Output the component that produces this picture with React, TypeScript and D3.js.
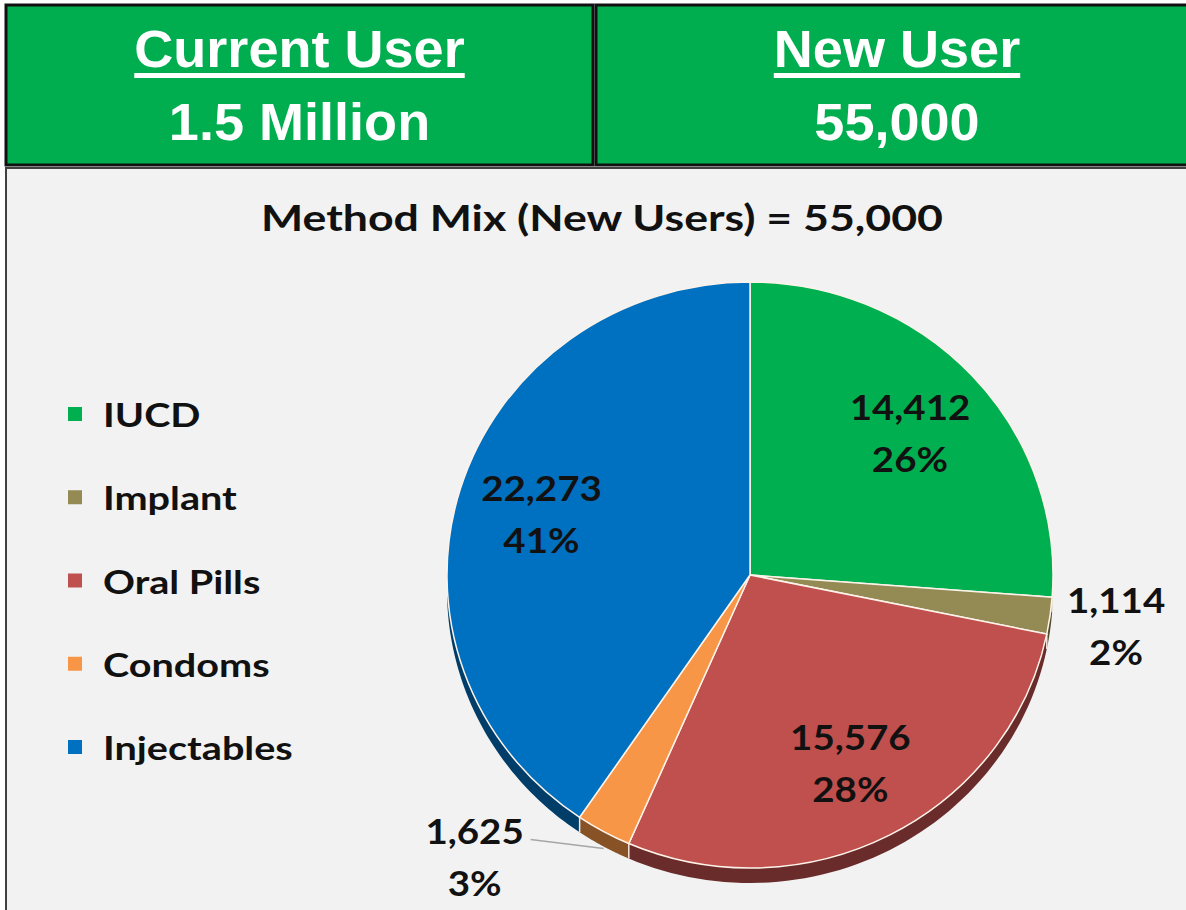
import React, { useEffect, useRef } from 'react';
import * as d3 from 'd3';

const methods = ['IUCD', 'Implant', 'Oral Pills', 'Condoms', 'Injectables'];
const newUsers = [14412, 1114, 15576, 1625, 22273];
const sharePercent = [26, 2, 28, 3, 41];
const sliceColors = ['#00b050', '#948a54', '#c0504d', '#f79646', '#0070c0'];
const headerTitles = ['Current User', 'New User'];
const headerValues = ['1.5 Million', '55,000'];
const chartTitle = 'Method Mix (New Users) = 55,000';

export default function App() {
  const ref = useRef<SVGSVGElement>(null);

  useEffect(() => {
    const svg = d3.select(ref.current as SVGSVGElement);
    svg.selectAll('*').remove();
    const W = 1186, H = 910;
    svg.append('rect').attr('width', W).attr('height', H).attr('fill', '#ffffff');

    const stretch = (sel: d3.Selection<SVGTextElement, unknown, null, undefined>, sx: number) => {
      const w = (sel.node() as SVGTextElement).getComputedTextLength();
      sel.attr('textLength', w * sx).attr('lengthAdjust', 'spacingAndGlyphs');
      return w * sx;
    };

    // Header boxes
    const boxes = [{ x: 6, w: 587 }, { x: 596, w: 602 }];
    const hdrFont = '"Liberation Sans", Arial, sans-serif';
    boxes.forEach((b, i) => {
      const g = svg.append('g');
      g.append('rect').attr('x', b.x).attr('y', 5).attr('width', b.w).attr('height', 160)
        .attr('fill', '#00ae50').attr('stroke', '#111').attr('stroke-width', 3);
      const cx = b.x + b.w / 2;
      const t = g.append('text').attr('x', cx).attr('y', 67).attr('text-anchor', 'middle')
        .attr('font-family', hdrFont).attr('font-weight', 'bold').attr('font-size', 51)
        .attr('fill', '#fff').text(headerTitles[i]);
      const tw = stretch(t as any, 1.06);
      g.append('rect').attr('x', cx - tw / 2).attr('y', 73).attr('width', tw).attr('height', 5).attr('fill', '#fff');
      const v = g.append('text').attr('x', cx).attr('y', 140).attr('text-anchor', 'middle')
        .attr('font-family', hdrFont).attr('font-weight', 'bold').attr('font-size', 51)
        .attr('fill', '#fff').text(headerValues[i]);
      stretch(v as any, 1.06);
    });

    // Chart area
    svg.append('rect').attr('x', 6).attr('y', 168).attr('width', 1200).attr('height', 760)
      .attr('fill', '#f2f2f2').attr('stroke', '#404040').attr('stroke-width', 2);

    const font = 'Lato, "Open Sans", sans-serif';
    const title = svg.append('text').attr('x', 602).attr('y', 231).attr('text-anchor', 'middle')
      .attr('font-family', font).attr('font-weight', 'bold').attr('font-size', 36)
      .attr('fill', '#111').text(chartTitle);
    stretch(title as any, 1.24);

    // Legend
    const legY = d3.scalePoint<string>().domain(methods).range([414, 747]);
    const leg = svg.append('g');
    methods.forEach((m, i) => {
      const y = legY(m) as number;
      leg.append('rect').attr('x', 68).attr('y', y - 7).attr('width', 14).attr('height', 14).attr('fill', sliceColors[i]);
      const t = leg.append('text').attr('x', 103).attr('y', y).attr('dominant-baseline', 'central')
        .attr('font-family', font).attr('font-weight', 'bold').attr('font-size', 33)
        .attr('fill', '#111').text(m);
      stretch(t as any, 1.2);
    });

    // Pie (slightly tilted 3D)
    const cx = 750, cy = 575, rx = 303, ry = 293, depth = 15;
    const total = d3.sum(newUsers);
    const pie = d3.pie<number>().sort(null).value(d => d);
    const arcs = pie(newUsers);
    const ell = (a: number, r = 1): [number, number] => [cx + Math.sin(a) * rx * r, cy - Math.cos(a) * ry * r];

    // sides
    const sideG = svg.append('g');
    arcs.forEach((a, i) => {
      const s = Math.max(a.startAngle, Math.PI / 2);
      const e = Math.min(a.endAngle, 3 * Math.PI / 2);
      if (s >= e) return;
      const n = 60;
      const top = d3.range(n + 1).map(k => ell(s + (e - s) * k / n));
      const bottom = top.slice().reverse().map(([x, y]) => [x, y + depth] as [number, number]);
      const pts = top.concat(bottom);
      sideG.append('path').attr('d', d3.line()(pts) + 'Z')
        .attr('fill', (d3.color(sliceColors[i]) as d3.RGBColor).darker(1.7).formatHex());
    });
    arcs.forEach(a => {
      const ang = a.endAngle;
      if (ang > Math.PI / 2 && ang < 3 * Math.PI / 2) {
        const [x, y] = ell(ang);
        sideG.append('line').attr('x1', x).attr('y1', y).attr('x2', x).attr('y2', y + depth)
          .attr('stroke', '#f4e6da').attr('stroke-width', 1.5);
      }
    });

    // top faces
    const arcGen = d3.arc<d3.PieArcDatum<number>>().innerRadius(0).outerRadius(rx);
    const topG = svg.append('g').attr('transform', `translate(${cx},${cy}) scale(1,${ry / rx})`);
    topG.selectAll('path').data(arcs).join('path')
      .attr('d', d => arcGen(d) as string)
      .attr('fill', (_, i) => sliceColors[i])
      .attr('stroke', '#fdf3ea').attr('stroke-width', 1.5)
      .attr('vector-effect', 'non-scaling-stroke');

    // labels
    const fmt = d3.format(',');
    const lblG = svg.append('g').attr('font-family', font).attr('font-weight', 'bold')
      .attr('font-size', 35).attr('fill', '#111').attr('text-anchor', 'middle');
    arcs.forEach((a, i) => {
      const mid = (a.startAngle + a.endAngle) / 2;
      const share = a.value / total;
      let lx: number, ly: number;
      if (share >= 0.05) {
        [lx, ly] = ell(mid, 0.72);
      } else if (Math.sin(mid) > 0) {
        [lx, ly] = ell(mid, 1.22);
      } else {
        const [ax, ay] = ell(mid);
        const ey = ay + depth;
        lx = ax - 129;
        ly = ay + 24;
        lblG.append('line').attr('x1', lx + 56).attr('y1', ly - 16).attr('x2', ax).attr('y2', ey + 2)
          .attr('stroke', '#a6a6a6').attr('stroke-width', 1.5);
      }
      const t1 = lblG.append('text').attr('x', lx).attr('y', ly - 26).attr('dominant-baseline', 'central').text(fmt(a.value));
      const t2 = lblG.append('text').attr('x', lx).attr('y', ly + 26).attr('dominant-baseline', 'central').text(`${sharePercent[i]}%`);
      stretch(t1 as any, 1.1);
      stretch(t2 as any, 1.1);
    });
  }, []);

  return <svg ref={ref} width={1186} height={910} style={{ position: 'absolute', left: 0, top: 0, display: 'block' }} />;
}
